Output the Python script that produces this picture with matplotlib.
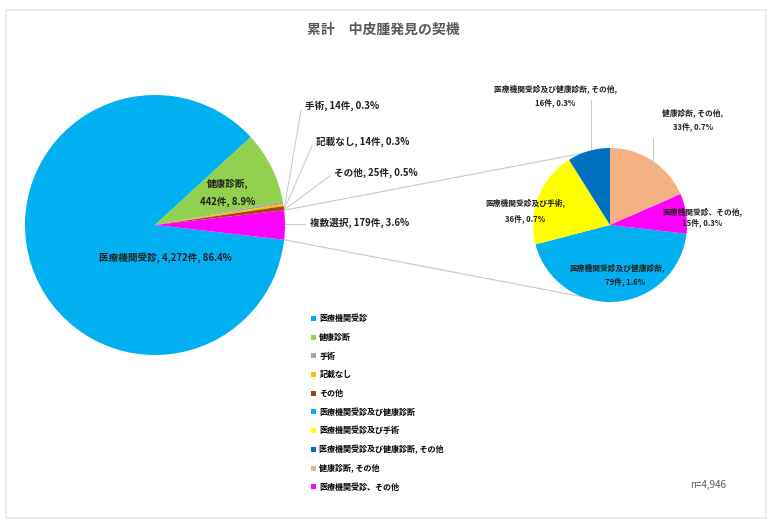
import numpy as np
import matplotlib
matplotlib.use("Agg")
import matplotlib.pyplot as plt
from matplotlib.patches import Rectangle

plt.rcParams['font.family'] = ['Noto Sans CJK JP', 'DejaVu Sans']

title = "累計　中皮腫発見の契機"
total_label = "n=4,946"

# main pie
main_names = ["医療機関受診", "健康診断", "手術", "記載なし", "その他", "複数選択"]
main_counts = [4272, 442, 14, 14, 25, 179]
main_pcts = [86.4, 8.9, 0.3, 0.3, 0.5, 3.6]
main_colors = ["#00B0F0", "#92D050", "#A5A5A5", "#FFC000", "#9E480E", "#FF00FF"]

# breakdown of 複数選択
sub_names = ["医療機関受診及び健康診断", "医療機関受診及び手術", "医療機関受診及び健康診断, その他",
             "健康診断, その他", "医療機関受診、その他"]
sub_counts = [79, 36, 16, 33, 15]
sub_pcts = [1.6, 0.7, 0.3, 0.7, 0.3]
sub_colors = ["#00B0F0", "#FFFF00", "#0070C0", "#F4B183", "#FF00FF"]

W, H = 772, 522
fig = plt.figure(figsize=(W / 100, H / 100), dpi=100)
ax = fig.add_axes([0, 0, 1, 1])


def py(y):
    # pixel row -> data y
    return H - y


c1, r1 = (155, py(225)), 130
c2, r2 = (610, py(225)), 77

other_half = main_counts[-1] / sum(main_counts) * 360 / 2
w1, _ = ax.pie(main_counts, colors=main_colors, startangle=-other_half, counterclock=False,
               center=c1, radius=r1, wedgeprops=dict(linewidth=0), frame=True)
sub_start = 90 + 360 * sum(sub_counts[:3]) / sum(sub_counts)
w2, _ = ax.pie(sub_counts, colors=sub_colors, startangle=sub_start, counterclock=False,
               center=c2, radius=r2, wedgeprops=dict(linewidth=0), frame=True)

# connector lines
lc = "#C8C8C8"
for sgn in (1, -1):
    a = np.radians(sgn * other_half)
    p = (c1[0] + r1 * np.cos(a), c1[1] + r1 * np.sin(a))
    q = (c2[0], c2[1] + sgn * r2)
    ax.plot([p[0], q[0]], [p[1], q[1]], color=lc, lw=0.8, zorder=0)

fs = 6.9
sfs = 5.6
tc = "#202020"


def lab(name, n, pct, sep=", "):
    return f"{name}{sep}{n:,}件, {pct}%"


# main labels
ax.text(165, py(258), lab(main_names[0], main_counts[0], main_pcts[0]), ha='center', va='center',
        fontsize=fs, weight='bold', color=tc)
ax.text(228, py(193), f"{main_names[1]},\n{main_counts[1]}件, {main_pcts[1]}%", ha='center', va='center',
        fontsize=fs, weight='bold', color=tc, linespacing=2.0)

out_pos = [(2, 305, 106, 301, 110), (3, 316, 142, 312, 146), (4, 334, 173, 330, 176), (5, 310, 223, 305, 224)]
for i, tx, ty, lx, ly in out_pos:
    ax.text(tx, py(ty), lab(main_names[i], main_counts[i], main_pcts[i]), ha='left', va='center',
            fontsize=fs, weight='bold', color=tc)
    sy = 224 if i == 5 else 210
    ax.plot([284, lx], [py(sy), py(ly)], color=lc, lw=0.7, zorder=0)

# sub labels
sub_pos = [(617, 268, 14), (525, 203, 16), (555, 89, 14), (693, 113, 14), (702, 212, 11)]
for i, (tx, ty, gap) in enumerate(sub_pos):
    ax.text(tx, py(ty), f"{sub_names[i]},", ha='center', va='center', fontsize=sfs,
            weight='bold', color=tc)
    ax.text(tx + (8 if i == 0 else 0), py(ty + gap), f"{sub_counts[i]}件, {sub_pcts[i]}%", ha='center',
            va='center', fontsize=sfs, weight='bold', color=tc)
ax.plot([591, 591], [py(100), py(150)], color=lc, lw=0.7, zorder=0)
ax.plot([653, 653], [py(138), py(172)], color=lc, lw=0.7, zorder=3)

ax.text(W / 2 - 3, py(30), title, ha='center', va='center', fontsize=10, color="#595959", weight='bold')
ax.text(690, py(485), total_label, ha='left', va='center', fontsize=7, color="#595959")

# legend: main categories except 複数選択, then its breakdown
handles = list(w1[:-1]) + list(w2)
labels = main_names[:-1] + sub_names
ax.legend(handles, labels, loc='upper left', bbox_to_anchor=(304 / W, 1 - 307 / H), frameon=False,
          handlelength=0.6, handleheight=0.6, handletextpad=0.4, labelspacing=1.2,
          prop=dict(weight='bold', size=5.8))

ax.add_patch(Rectangle((6, py(518)), 760, 508, fill=False, edgecolor="#E8E8E8", lw=1.2, zorder=0))
ax.set_xlim(0, W)
ax.set_ylim(0, H)
ax.axis('off')

fig.savefig("out.png", dpi=100)
